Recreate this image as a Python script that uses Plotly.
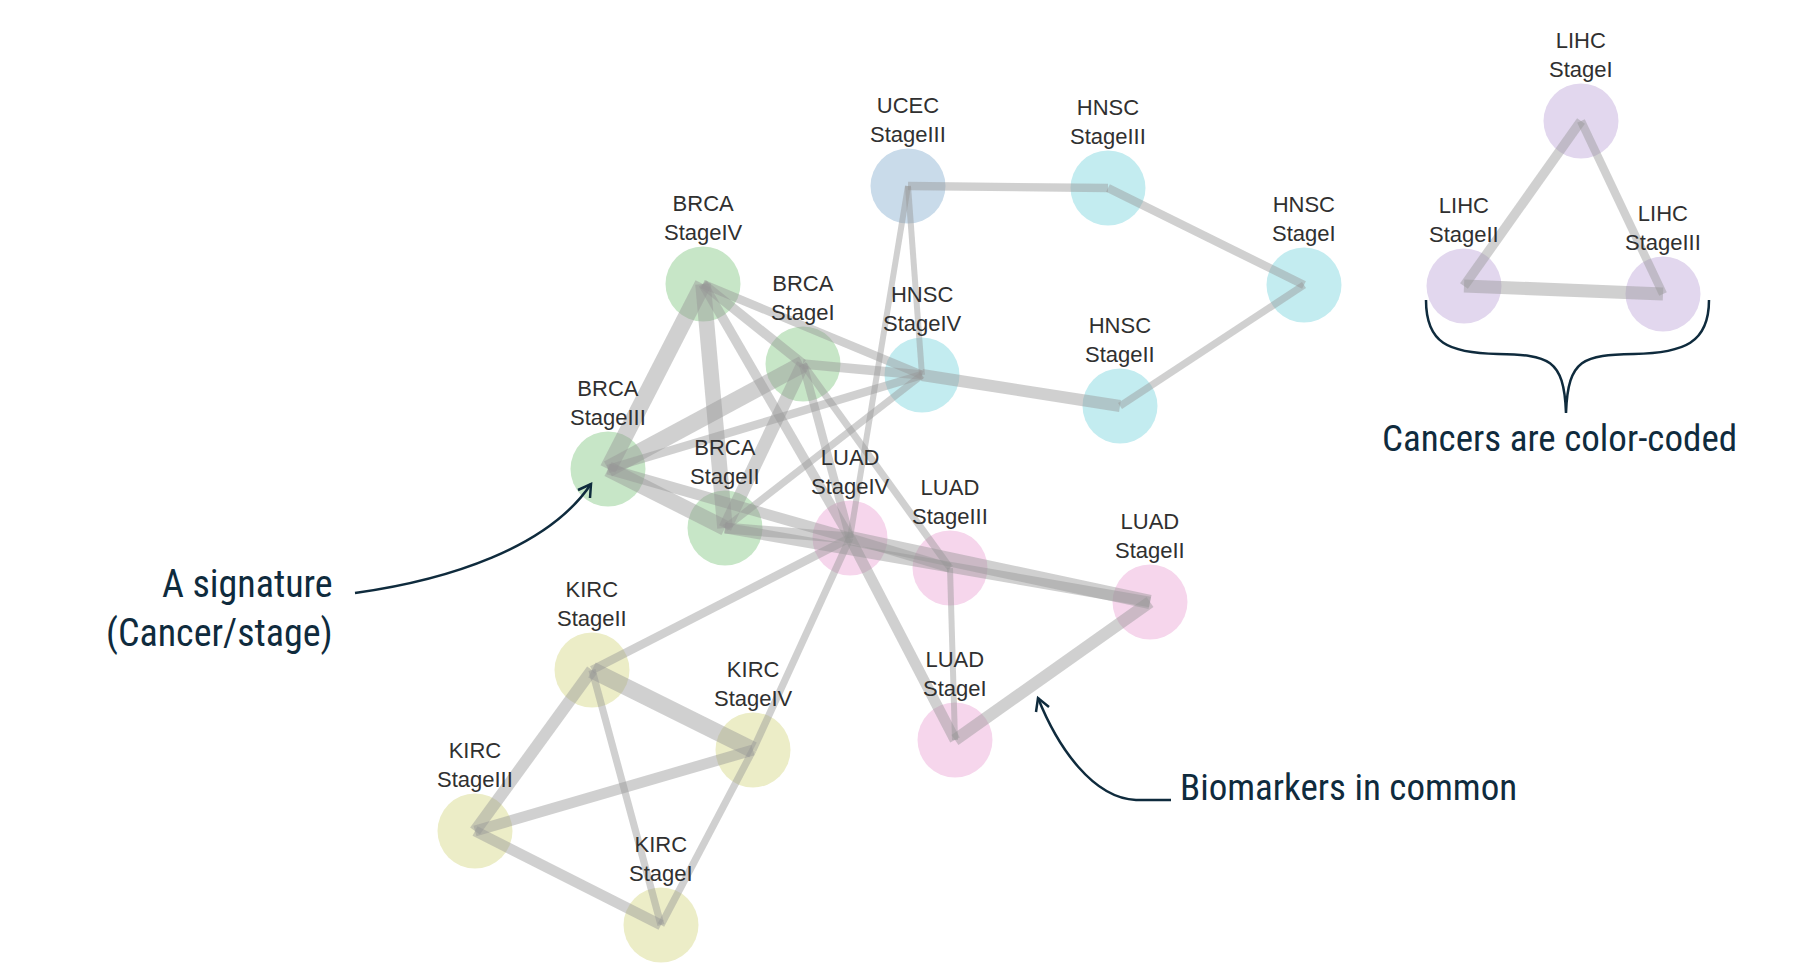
import plotly.graph_objects as go

# ---- data ----
node_cancer = ["UCEC", "HNSC", "HNSC", "HNSC", "HNSC",
               "BRCA", "BRCA", "BRCA", "BRCA",
               "LUAD", "LUAD", "LUAD", "LUAD",
               "KIRC", "KIRC", "KIRC", "KIRC",
               "LIHC", "LIHC", "LIHC"]
node_stage = ["III", "III", "I", "IV", "II",
              "IV", "I", "III", "II",
              "IV", "III", "II", "I",
              "II", "IV", "III", "I",
              "I", "II", "III"]
# layout coordinates of the network (pixel-like units)
node_x = [900, 1100, 1296, 914, 1112,
          695, 795, 600, 717,
          842, 942, 1142, 947,
          584, 745, 467, 653,
          1573, 1456, 1655]
node_y = [178, 180, 277, 367, 398,
          276, 356, 461, 520,
          530, 560, 594, 732,
          662, 742, 823, 917,
          113, 278, 286]

edge_src = [0, 1, 2, 4, 0, 0,
            5, 5, 5, 5, 5,
            6, 6, 6, 6, 6,
            7, 7, 7,
            8, 8, 8,
            9, 9, 9, 10, 12, 9, 9,
            13, 13, 13, 15, 15, 14,
            17, 17, 18]
edge_dst = [1, 2, 4, 3, 3, 9,
            6, 7, 8, 9, 3,
            7, 8, 3, 9, 10,
            3, 8, 9,
            3, 9, 11,
            11, 10, 12, 12, 11, 13, 14,
            14, 15, 16, 14, 16, 16,
            18, 19, 19]
edge_weight = [7, 7, 6, 10, 5, 5,
               8, 14, 13, 8, 7,
               14, 11, 8, 7, 6,
               7, 13, 9,
               6, 9, 9,
               12, 8, 9, 5, 10, 7, 6,
               14, 10, 6, 9, 9, 6,
               8, 7, 11]

cancer_colors = {
    "BRCA": "#c7e6c7",
    "HNSC": "#c3ecf0",
    "UCEC": "#c9dbea",
    "LUAD": "#f6d6ec",
    "KIRC": "#ecedc7",
    "LIHC": "#e2d7ee",
}

annot_color = "#0f2b3d"
hand_font = "Liberation Sans Narrow, Arial Narrow, Roboto Condensed, DejaVu Sans Condensed, sans-serif"
label_font = dict(family="Liberation Sans, Arial, sans-serif", size=22, color="#303030")
width_scale = 1.2

fig = go.Figure()

# nodes
fig.add_trace(go.Scatter(
    x=node_x, y=node_y, mode="markers",
    marker=dict(size=75, color=[cancer_colors[c] for c in node_cancer], line=dict(width=0)),
    text=[f"{c} Stage{s}" for c, s in zip(node_cancer, node_stage)],
    hoverinfo="text", showlegend=False, cliponaxis=False,
))

# edges (on top of nodes, semi-transparent)
for s, d, w in zip(edge_src, edge_dst, edge_weight):
    fig.add_trace(go.Scatter(
        x=[node_x[s], node_x[d]], y=[node_y[s], node_y[d]],
        mode="lines", line=dict(width=w * width_scale, color="rgba(150,150,150,0.45)"),
        hoverinfo="skip", showlegend=False,
    ))

annotations = []
# node labels: cancer name above stage name
for c, s, x, y in zip(node_cancer, node_stage, node_x, node_y):
    annotations.append(dict(x=x, y=y, text=f"{c}<br>Stage{s}", showarrow=False,
                            xanchor="center", yanchor="bottom", yshift=38,
                            borderpad=0, font=label_font))

shapes = [
    # arrow to a signature
    dict(type="path", path="M 347,585 C 440,572 540,540 583,476",
         line=dict(color=annot_color, width=2.5)),
    dict(type="path", path="M 570,482 L 583,476 L 582,490",
         line=dict(color=annot_color, width=2.5)),
    # arrow to an edge
    dict(type="path", path="M 1163,792 L 1128,792 C 1085,790 1050,740 1030,690",
         line=dict(color=annot_color, width=2.5)),
    dict(type="path", path="M 1028,704 L 1030,690 L 1041,699",
         line=dict(color=annot_color, width=2.5)),
    # brace under LIHC
    dict(type="path",
         path="M 1418,292 C 1418,335 1440,345 1490,346 C 1540,347 1556,350 1558,405 "
              "C 1560,350 1576,347 1626,346 C 1676,345 1701,335 1701,292",
         line=dict(color=annot_color, width=2.5)),
]
for sh in shapes:
    sh.update(xref="x", yref="y", layer="above")

annotations += [
    dict(x=327, y=600, text="A signature<br>(Cancer/stage)", showarrow=False,
         xanchor="right", yanchor="middle", align="right",
         font=dict(family=hand_font, size=38, color=annot_color)),
    dict(x=1170, y=779, text="Biomarkers in common", showarrow=False,
         xanchor="left", yanchor="middle",
         font=dict(family=hand_font, size=37, color=annot_color)),
    dict(x=1551, y=430, text="Cancers are color-coded", showarrow=False,
         xanchor="center", yanchor="middle",
         font=dict(family=hand_font, size=37, color=annot_color)),
]
for a in annotations:
    a.update(xref="x", yref="y")

fig.update_layout(
    width=1807, height=977,
    margin=dict(l=0, r=0, t=0, b=0),
    paper_bgcolor="white", plot_bgcolor="white",
    xaxis=dict(range=[0, 1807], visible=False, fixedrange=True),
    yaxis=dict(range=[977, 0], visible=False, fixedrange=True),
    shapes=shapes, annotations=annotations,
    showlegend=False,
)

fig.write_html("out.html")
